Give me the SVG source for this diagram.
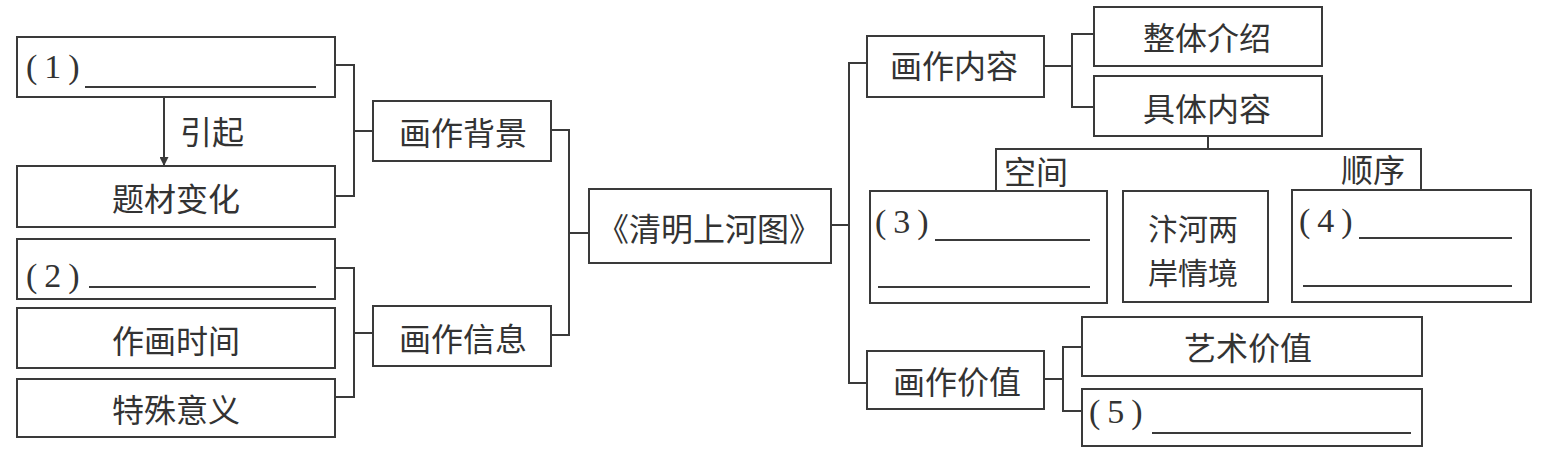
<svg xmlns="http://www.w3.org/2000/svg" width="1548" height="455" viewBox="0 0 1548 455">
<style>
.box{fill:#fff;stroke:#3a3a3a;stroke-width:2}
.ln{fill:none;stroke:#3a3a3a;stroke-width:2}
.t{font-family:"Noto Sans CJK SC","Noto Sans",sans-serif;font-size:32px;fill:#333;text-anchor:middle;dominant-baseline:central}
.n{font-family:"Liberation Serif",serif;font-size:34px;fill:#333;letter-spacing:7px}
.ul{stroke:#3a3a3a;stroke-width:1.8}
</style>
<defs>
<marker id="arr" viewBox="0 0 10 10" refX="10" refY="5" markerWidth="9" markerHeight="9" markerUnits="userSpaceOnUse" orient="auto">
<path d="M0,0 L10,5 L0,10 z" fill="#3a3a3a"/>
</marker>
</defs>
<rect width="1548" height="455" fill="#fff"/>
<g id="connectors">
<path class="ln" d="M335,65 H354 V196 H335 M354,131 H373"/>
<path class="ln" d="M335,268 H354 V397 H335 M354,333 H373"/>
<path class="ln" d="M551,130 H569 V335 H551 M569,233 H589"/>
<path class="ln" d="M831,225 H849 M867,63 H849 V383 H867"/>
<path class="ln" d="M1044,66 H1072 M1094,34 H1072 V107 H1094"/>
<path class="ln" d="M1208,136 V149 M996,191 V149 H1421 V190"/>
<path class="ln" d="M1044,379 H1063 M1082,347 H1063 V411 H1082"/>
<line class="ln" x1="164" y1="97" x2="164" y2="166" marker-end="url(#arr)"/>
<text class="t" x="212" y="130">引起</text>
<text class="t" x="1036" y="170">空间</text>
<text class="t" x="1373" y="168">顺序</text>
</g>
<g id="n1">
<rect class="box" x="17" y="37" width="318" height="60"/>
<text class="n" x="26" y="78">(1)</text>
<line class="ul" x1="85" y1="87" x2="316" y2="87"/>
</g>
<g id="n-ticai">
<rect class="box" x="17" y="166" width="318" height="61"/>
<text class="t" x="176" y="197">题材变化</text>
</g>
<g id="n2">
<rect class="box" x="17" y="239" width="318" height="60"/>
<text class="n" x="26" y="287">(2)</text>
<line class="ul" x1="89" y1="287" x2="316" y2="287"/>
</g>
<g id="n-shijian">
<rect class="box" x="17" y="308" width="318" height="60"/>
<text class="t" x="176" y="339">作画时间</text>
</g>
<g id="n-yiyi">
<rect class="box" x="17" y="379" width="318" height="58"/>
<text class="t" x="176" y="408">特殊意义</text>
</g>
<g id="n-beijing">
<rect class="box" x="373" y="101" width="178" height="60"/>
<text class="t" x="463" y="131">画作背景</text>
</g>
<g id="n-xinxi">
<rect class="box" x="373" y="306" width="178" height="60"/>
<text class="t" x="463" y="337">画作信息</text>
</g>
<g id="n-main">
<rect class="box" x="589" y="189" width="242" height="74"/>
<text class="t" x="709" y="227">《清明上河图》</text>
</g>
<g id="n-neirong">
<rect class="box" x="867" y="36" width="177" height="61"/>
<text class="t" x="954" y="64">画作内容</text>
</g>
<g id="n-zhengti">
<rect class="box" x="1094" y="7" width="228" height="59"/>
<text class="t" x="1207" y="36">整体介绍</text>
</g>
<g id="n-juti">
<rect class="box" x="1094" y="76" width="228" height="60"/>
<text class="t" x="1207" y="107">具体内容</text>
</g>
<g id="n3">
<rect class="box" x="870" y="191" width="237" height="112"/>
<text class="n" x="875" y="233">(3)</text>
<line class="ul" x1="935" y1="240" x2="1090" y2="240"/>
<line class="ul" x1="878" y1="287" x2="1090" y2="287"/>
</g>
<g id="n-bianhe">
<rect class="box" x="1123" y="191" width="145" height="111"/>
<text class="t" style="font-size:30px"><tspan x="1193" y="227">汴河两</tspan><tspan x="1193" y="271">岸情境</tspan></text>
</g>
<g id="n4">
<rect class="box" x="1292" y="190" width="239" height="112"/>
<text class="n" x="1299" y="232">(4)</text>
<line class="ul" x1="1359" y1="238" x2="1512" y2="238"/>
<line class="ul" x1="1303" y1="286" x2="1512" y2="286"/>
</g>
<g id="n-jiazhi">
<rect class="box" x="867" y="351" width="177" height="58"/>
<text class="t" x="957" y="380">画作价值</text>
</g>
<g id="n-yishu">
<rect class="box" x="1082" y="317" width="340" height="59"/>
<text class="t" x="1248" y="346">艺术价值</text>
</g>
<g id="n5">
<rect class="box" x="1082" y="389" width="340" height="57"/>
<text class="n" x="1089" y="423">(5)</text>
<line class="ul" x1="1152" y1="433" x2="1411" y2="433"/>
</g>
</svg>
